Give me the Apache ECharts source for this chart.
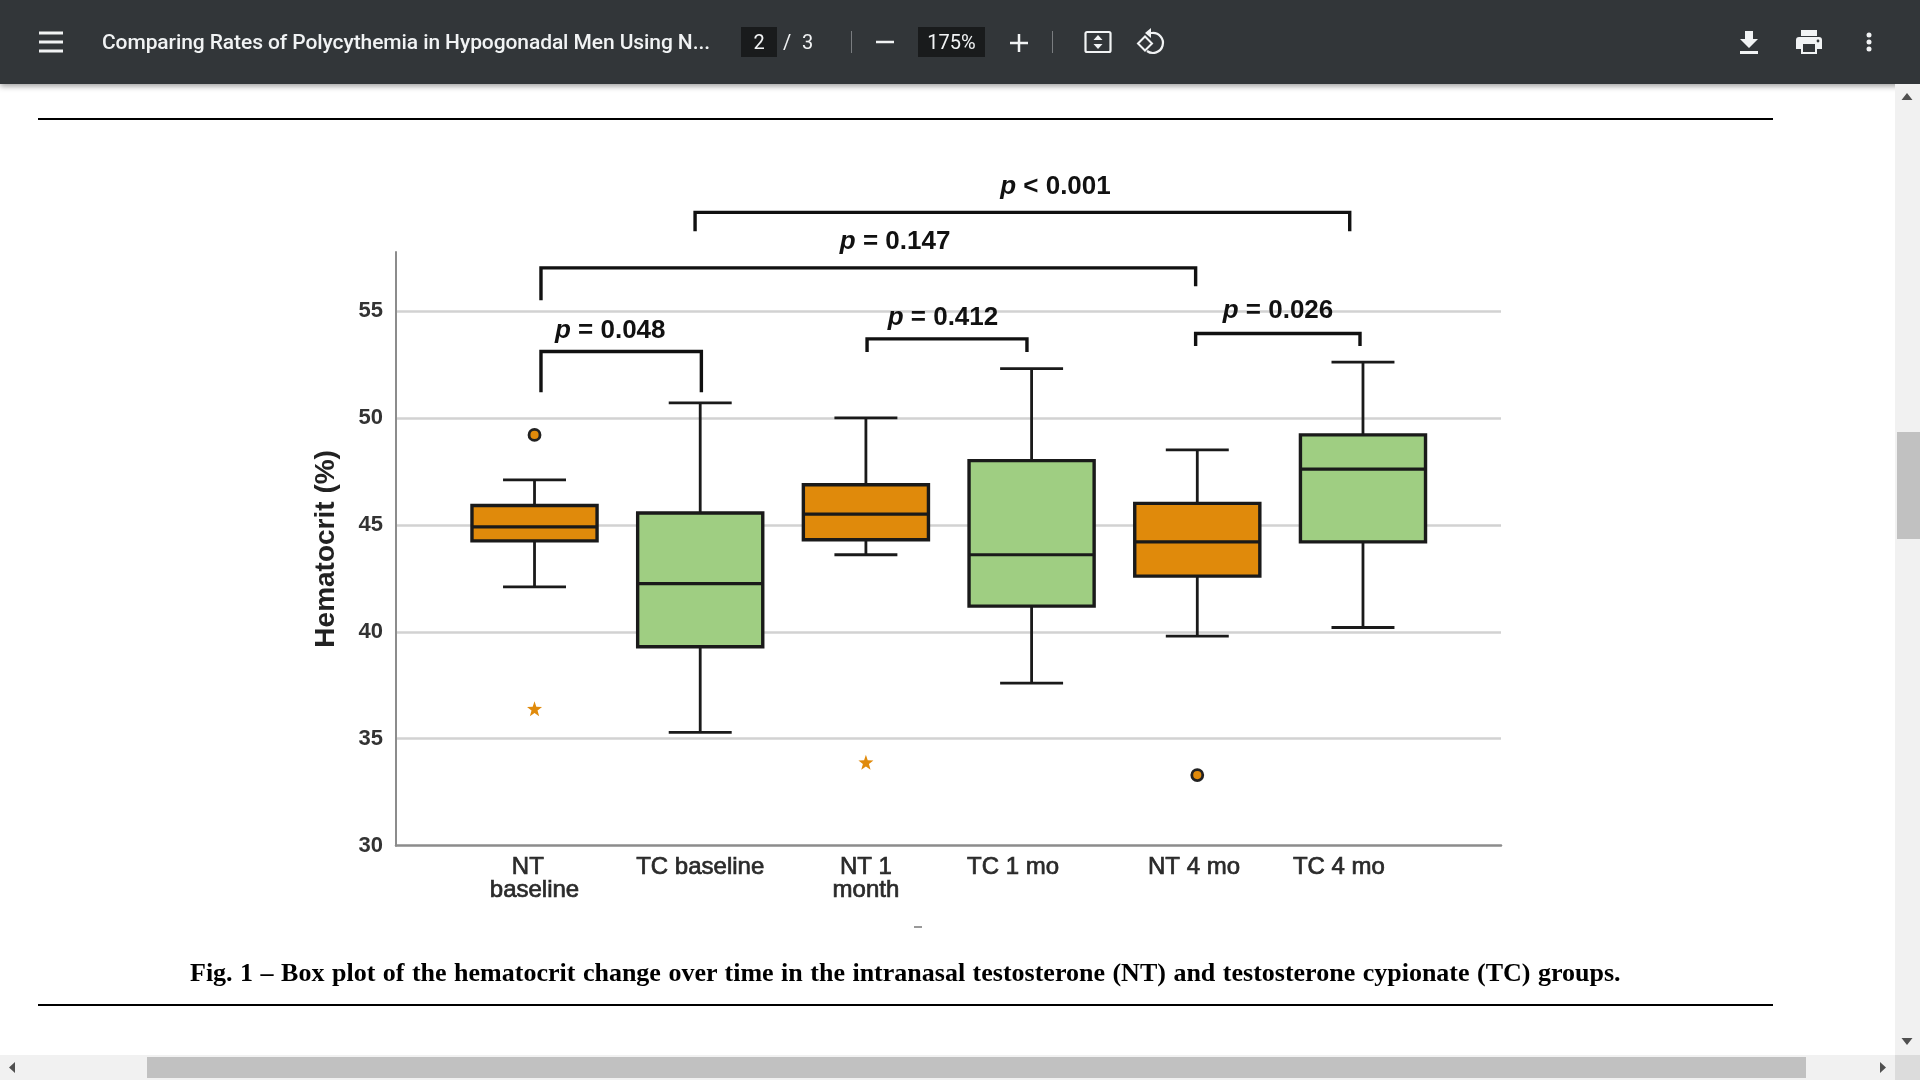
<!DOCTYPE html>
<html>
<head>
<meta charset="utf-8">
<title>Hematocrit box plot</title>
<script src="https://cdn.jsdelivr.net/npm/echarts@6/dist/echarts.min.js"></script>
<style>
html,body{margin:0;padding:0;width:1920px;height:1080px;overflow:hidden;background:#fff;}
#chart{position:absolute;left:0;top:0;width:1920px;height:1080px;}
.abs{position:absolute;}
#bar{position:absolute;left:0;top:0;width:1920px;height:84px;background:#323639;box-shadow:0 2px 6px rgba(0,0,0,.4);color:#f1f3f4;font-family:Roboto,sans-serif;}
#bar .t{position:absolute;top:30px;line-height:24px;font-size:20px;white-space:nowrap;}
#bar .box{position:absolute;top:27px;height:30px;background:#191b1c;}
#bar .sep{position:absolute;top:31px;width:1px;height:22px;background:#7a7d80;}
#bar svg{position:absolute;}
.rule{position:absolute;left:38px;width:1735px;height:2px;background:#000;}
#caption{position:absolute;left:190px;top:956px;width:1440px;font:bold 26px/34px "Liberation Serif",serif;color:#000;white-space:nowrap;word-spacing:1px;}
</style>
</head>
<body>
<div id="chart"></div>

<!-- pdf viewer chrome -->
<div id="bar">
	<svg style="left:38px;top:30px" width="26" height="24"><path d="M1 3h24M1 12h24M1 21h24" stroke="#f1f3f4" stroke-width="3"/></svg>
	<div class="t" style="left:102px;font-size:21px;font-weight:500;letter-spacing:-.09px">Comparing Rates of Polycythemia in Hypogonadal Men Using N...</div>
	<div class="box" style="left:741px;width:36px"></div>
	<div class="t" style="left:741px;width:36px;text-align:center">2</div>
	<div class="t" style="left:783px">/</div>
	<div class="t" style="left:802px">3</div>
	<div class="sep" style="left:851px"></div>
	<svg style="left:875px;top:32px" width="20" height="20"><path d="M1 10h18" stroke="#f1f3f4" stroke-width="2.5"/></svg>
	<div class="box" style="left:918px;width:67px"></div>
	<div class="t" style="left:918px;width:67px;text-align:center">175%</div>
	<svg style="left:1009px;top:33px" width="20" height="20"><path d="M1 10h18M10 1v18" stroke="#f1f3f4" stroke-width="2.5"/></svg>
	<div class="sep" style="left:1052px"></div>
	<svg style="left:1084px;top:30px" width="28" height="24"><rect x="1.5" y="2" width="25" height="20" rx="1.5" fill="none" stroke="#f1f3f4" stroke-width="2.2"/><path d="M14 5l4.500 5h-9zM14 19l4.500-5h-9z" fill="#f1f3f4"/></svg>
	<svg style="left:1136px;top:27px" width="30" height="30"><path d="M2 16.500l7-7 7 7-7 7z" fill="none" stroke="#f1f3f4" stroke-width="2"/><path d="M13 6h3a10 10 0 1 1-5 18" fill="none" stroke="#f1f3f4" stroke-width="2.200"/><path d="M15 1v10l-6-5z" fill="#f1f3f4"/></svg>
	<svg style="left:1738px;top:29px" width="22" height="26"><path d="M7 2h8v8h5l-9 9-9-9h5zM2 22h18v3H2z" fill="#f1f3f4"/></svg>
	<svg style="left:1795px;top:29px" width="28" height="26"><path d="M6 1h16v6H6zM4 8h20a3 3 0 0 1 3 3v9h-5v5H6v-5H1v-9a3 3 0 0 1 3-3z" fill="#f1f3f4"/><rect x="8" y="15" width="12" height="8" fill="#323639"/><circle cx="23" cy="12" r="1.400" fill="#323639"/></svg>
	<svg style="left:1862px;top:32px" width="14" height="22"><circle cx="7" cy="3" r="2.500" fill="#f1f3f4"/><circle cx="7" cy="10" r="2.500" fill="#f1f3f4"/><circle cx="7" cy="17" r="2.500" fill="#f1f3f4"/></svg>
</div>

<div class="rule" style="top:118px"></div>
<div class="rule" style="top:1004px"></div>
<div class="abs" style="left:914px;top:926px;width:8px;height:2px;background:#999"></div>
<div id="caption">Fig. 1 – Box plot of the hematocrit change over time in the intranasal testosterone (NT) and testosterone cypionate (TC) groups.</div>

<!-- scrollbars -->
<div class="abs" style="left:1895px;top:84px;width:25px;height:971px;background:#f1f1f1"></div>
<div class="abs" style="left:1897px;top:432px;width:23px;height:107px;background:#c1c1c1"></div>
<div class="abs" style="left:0;top:1055px;width:1895px;height:25px;background:#f1f1f1"></div>
<div class="abs" style="left:1895px;top:1055px;width:25px;height:25px;background:#dcdcdc"></div>
<div class="abs" style="left:147px;top:1057px;width:1659px;height:21px;background:#c1c1c1"></div>
<svg class="abs" style="left:0;top:0;pointer-events:none" width="1920" height="1080">
	<path d="M1907 93l5.500 7h-11zM1907 1045l5.500-7h-11zM9 1067.500l6-5.500v11zM1886 1067.500l-6-5.500v11z" fill="#505050"/>
</svg>

<script>
//箱线图数据
var categories = ['NT  \nbaseline','TC baseline','NT 1\nmonth','TC 1 mo','NT 4 mo','TC 4 mo'];
var groups = ['NT','TC','NT','TC','NT','TC'];
var whiskerLow = [42.1,35.3,43.6,37.6,39.8,40.2];
var q1 = [44.25,39.3,44.3,41.2,42.6,44.2];
var median = [44.9,42.25,45.5,43.6,44.2,47.6];
var q3 = [45.9,45.55,46.87,48.0,46.0,49.2];
var whiskerHigh = [47.1,50.7,50.0,52.3,48.5,52.6];
var yTicks = [30,35,40,45,50,55];

//离群点
var circleOutliers = [[0,49.2],[4,33.3]];
var starOutliers = [[0,36.4],[2,33.9]];

//p值括号
var bracketText = ['< 0.001','= 0.147','= 0.048','= 0.412','= 0.026'];
var bracketLeft = [0.969,0.039,0.039,2.007,3.99];
var bracketRight = [4.92,3.99,1.007,2.972,4.982];
var bracketTop = [59.6,57.01,53.1,53.69,53.94];
var bracketLegLeft = [58.72,55.5,51.19,53.08,53.36];
var bracketLegRight = [58.72,56.15,51.19,53.08,53.36];
var bracketLabelX = [3.144,2.176,0.457,2.465,4.487];
var bracketLabelY = [60.79,58.22,54.06,54.67,55.0];

//x轴标签不完全对齐箱体
var xLabelAt = [0,1,2,2.888,3.98,4.855];

var colors = {NT:'#e08a0b',TC:'#9fce82'};
var ink = '#1a1a1a';

var boxData = categories.map(function(c,i){
	return [i,whiskerLow[i],q1[i],median[i],q3[i],whiskerHigh[i],groups[i]];
});
var bracketData = bracketText.map(function(t,i){
	return [bracketLeft[i],bracketRight[i],bracketTop[i],bracketLegLeft[i],bracketLegRight[i],bracketLabelX[i],bracketLabelY[i],t];
});

function renderBox(params,api){
	var x = api.value(0);
	var unit = api.size([1,0])[0];
	var boxW = unit*0.755;
	var capW = unit*0.38;
	var cx = api.coord([x,30])[0];
	var low = api.coord([x,api.value(1)])[1];
	var a = api.coord([x,api.value(2)])[1];
	var m = api.coord([x,api.value(3)])[1];
	var b = api.coord([x,api.value(4)])[1];
	var high = api.coord([x,api.value(5)])[1];
	function line(x1,y1,x2,y2,w){
		return {type:'line',shape:{x1:x1,y1:y1,x2:x2,y2:y2},style:{stroke:ink,lineWidth:w||2.8}};
	}
	return {type:'group',children:[
		line(cx,high,cx,b),
		line(cx,a,cx,low),
		line(cx-capW/2,high,cx+capW/2,high),
		line(cx-capW/2,low,cx+capW/2,low),
		{type:'rect',shape:{x:cx-boxW/2,y:b,width:boxW,height:a-b},style:{fill:colors[groups[params.dataIndex]],stroke:ink,lineWidth:3.4}},
		line(cx-boxW/2,m,cx+boxW/2,m,3.2)
	]};
}

function renderBracket(params,api){
	var left = api.value(0), right = api.value(1);
	var p1 = api.coord([left,api.value(3)]);
	var p2 = api.coord([left,api.value(2)]);
	var p3 = api.coord([right,api.value(2)]);
	var p4 = api.coord([right,api.value(4)]);
	var lp = api.coord([api.value(5),api.value(6)]);
	return {type:'group',children:[
		{type:'polyline',shape:{points:[p1,p2,p3,p4]},style:{stroke:'#111',lineWidth:3.4,fill:null}},
		{type:'text',x:lp[0],y:lp[1],style:{
			text:'{i|p} {n|'+bracketText[params.dataIndex]+'}',
			align:'center',verticalAlign:'middle',
			rich:{
				i:{font:'italic bold 26px "Liberation Sans"',fill:'#111'},
				n:{font:'bold 26px "Liberation Sans"',fill:'#111'}
			},
			font:'bold 26px "Liberation Sans"',fill:'#111'
		}}
	]};
}

var option = {
	animation:false,
	grid:{left:396,right:419,top:252,bottom:234.3,containLabel:false},
	xAxis:{
		type:'value',min:-0.836,max:5.833,
		splitLine:{show:false},
		axisLine:{show:true,onZero:false,lineStyle:{color:'#8c8c8c',width:2.5}},
		axisTick:{show:false},
		axisLabel:{
			customValues:xLabelAt,
			margin:10,
			hideOverlap:false,
			color:'#2a2a2a',
			textBorderColor:'#2a2a2a',
			textBorderWidth:0.7,
			fontFamily:'Liberation Sans',
			fontSize:24,
			lineHeight:23,
			formatter:function(v){
				return categories[xLabelAt.indexOf(v)];
			}
		}
	},
	yAxis:{
		type:'value',min:30,max:57.75,interval:5,
		name:'Hematocrit (%)',
		nameLocation:'middle',
		nameGap:56,
		nameTextStyle:{color:'#222',fontFamily:'Liberation Sans',fontWeight:'bold',fontSize:28},
		axisLine:{show:true,onZero:false,lineStyle:{color:'#8c8c8c',width:2}},
		axisTick:{show:false},
		splitLine:{show:true,showMinLine:false,showMaxLine:false,lineStyle:{color:'#d2d2d2',width:2.5}},
		axisLabel:{
			customValues:yTicks,
			margin:13,
			padding:[5,0,0,0],
			color:'#333',
			fontFamily:'Liberation Sans',
			fontWeight:'bold',
			fontSize:22
		}
	},
	series:[
		{type:'custom',data:boxData,renderItem:renderBox,clip:false,silent:true,z:3,encode:{x:0,y:[1,2,3,4,5]}},
		{type:'custom',data:bracketData,renderItem:renderBracket,clip:false,silent:true,z:5,encode:{x:[0,1],y:[2,3,4]}},
		{type:'scatter',data:circleOutliers,symbol:'circle',symbolSize:11,silent:true,z:4,itemStyle:{color:colors.NT,borderColor:'#222',borderWidth:2.8,opacity:1}},
		{type:'scatter',data:starOutliers,symbol:'path://M50 0L62 35L100 36L70 59L81 95L50 74L19 95L30 59L0 36L38 35Z',symbolSize:15,silent:true,z:4,itemStyle:{color:colors.NT,opacity:1}}
	]
};

var chart = echarts.init(document.getElementById('chart'));
chart.setOption(option);
</script>
</body>
</html>
